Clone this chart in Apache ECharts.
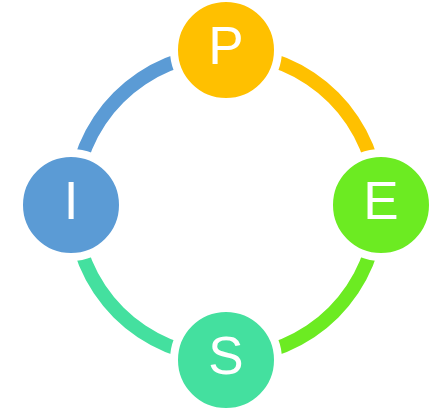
<!DOCTYPE html>
<html><head><meta charset="utf-8">
<script src="https://cdn.jsdelivr.net/npm/echarts@6/dist/echarts.min.js"></script>
<style>html,body{margin:0;padding:0;background:#fff}#c{width:444px;height:411px}</style>
</head><body><div id="c"></div>
<script>
// Node labels and their angular positions (degrees, counter-clockwise from east)
var nodeNames = ['P', 'E', 'S', 'I'];
var nodeAngles = [90, 0, 270, 180];
var nodeRadius = [1, 1, 1, 1];
var nodeColors = ['#FFC000', '#6CEB22', '#44E09F', '#5B9BD5'];
// Arc segments (clockwise starting at top): P→E, E→S, S→I, I→P
var arcNames = ['P-E', 'E-S', 'S-I', 'I-P'];
var arcValues = [1, 1, 1, 1];
var arcColors = ['#FFC000', '#6CEB22', '#44E09F', '#5B9BD5'];

var chart = echarts.init(document.getElementById('c'));
var center = [226, 205];
chart.setOption({
  animation: false,
  polar: { center: center, radius: 155 },
  angleAxis: { type: 'value', min: 0, max: 360, startAngle: 0, clockwise: false, show: false },
  radiusAxis: { type: 'value', min: 0, max: 1, show: false },
  series: [
    {
      type: 'pie', center: center, radius: [145, 159], startAngle: 90, clockwise: true,
      silent: true, label: { show: false }, labelLine: { show: false },
      data: arcNames.map(function (n, i) { return { name: n, value: arcValues[i], itemStyle: { color: arcColors[i] } }; }),
      z: 1
    },
    {
      type: 'scatter', coordinateSystem: 'polar', symbol: 'circle', symbolSize: 104, z: 5,
      itemStyle: { borderColor: '#ffffff', borderWidth: 8, opacity: 1 },
      label: { show: true, position: 'inside', color: '#ffffff', fontSize: 53, fontFamily: 'Liberation Sans, Arial, sans-serif', offset: [0, -1], formatter: function (p) { return p.name; } },
      data: nodeNames.map(function (n, i) { return { name: n, value: [nodeRadius[i], nodeAngles[i]], itemStyle: { color: nodeColors[i] } }; })
    }
  ]
});
</script></body></html>
